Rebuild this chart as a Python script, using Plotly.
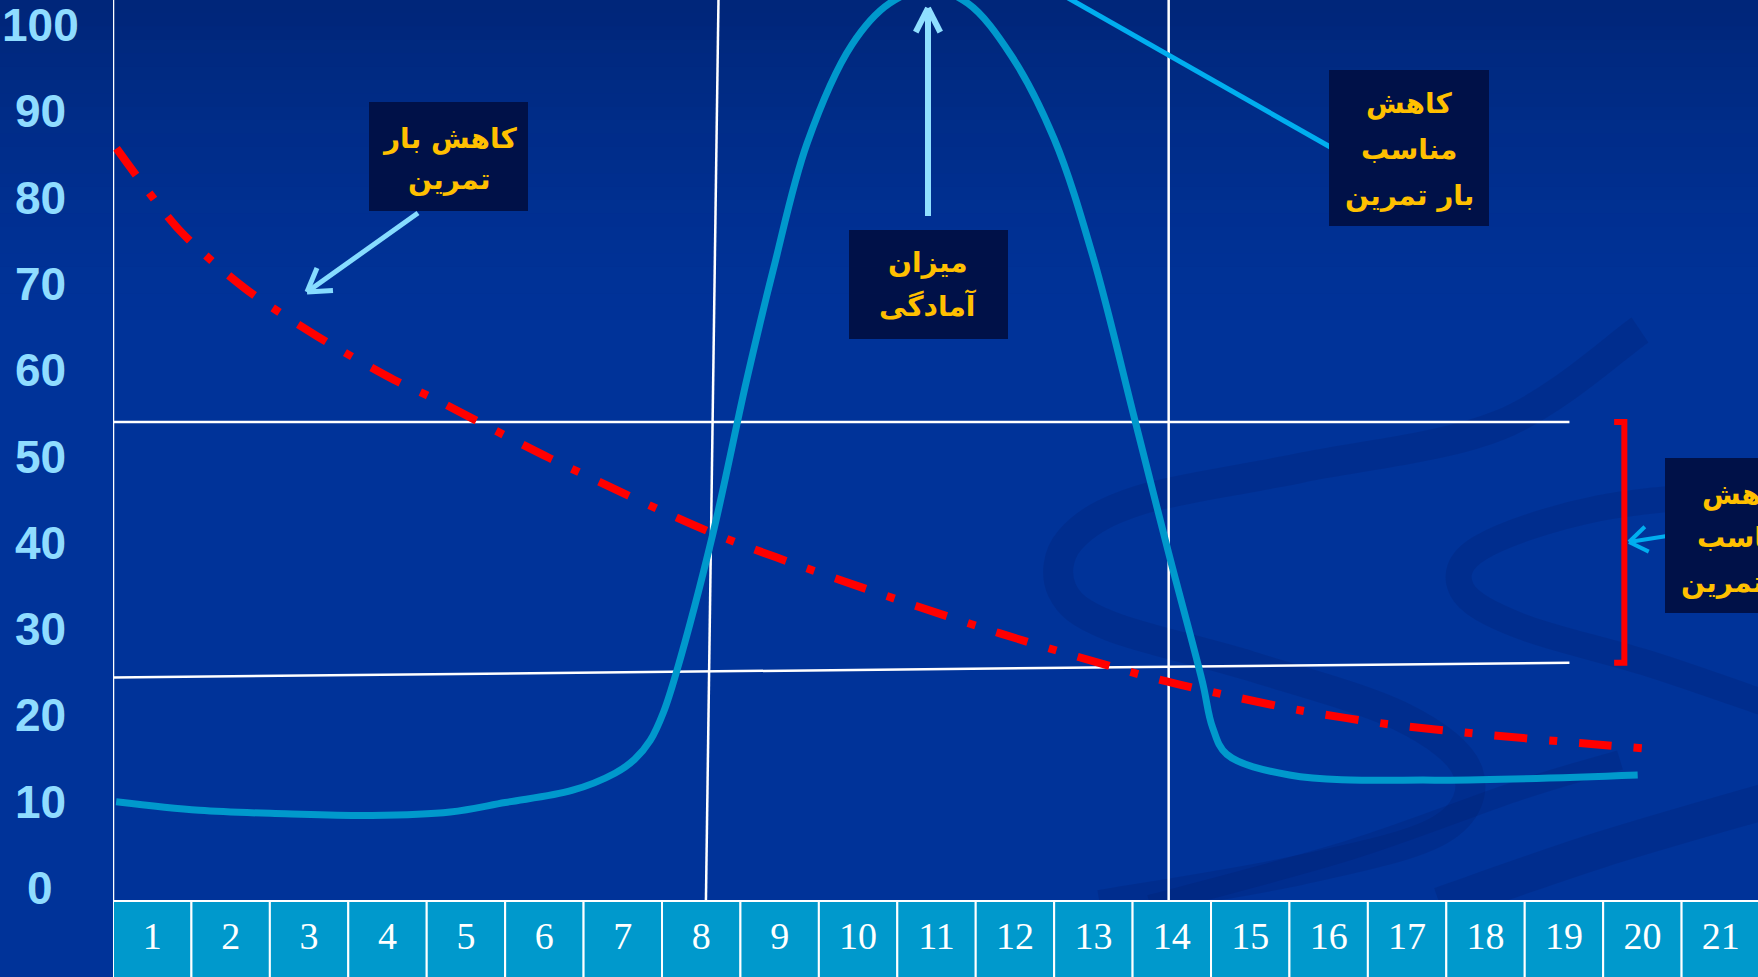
import math
import plotly.graph_objects as go

# ---------------- data ----------------
days = list(range(1, 22))
y_ticks = [0, 10, 20, 30, 40, 50, 60, 70, 80, 90, 100]

# fitness level (solid cyan curve)
fitness_x = [0.54, 1.6, 2.7, 3.8, 4.8, 5.5, 6.35, 6.9, 7.15, 7.35, 7.52, 7.68, 8.15, 8.58,
             8.92, 9.35, 9.92, 10.4, 10.9, 11.4, 11.95, 12.5, 13.0, 13.53, 13.96, 14.39,
             14.52, 14.70, 15.5, 17.35, 19.94]
fitness_y = [10.0, 9.0, 8.6, 8.4, 8.8, 9.9, 11.3, 13.3, 14.9, 17.1, 20.4, 24.9, 41.1, 58.9,
             71.7, 86.3, 97.7, 102.5, 104.2, 102.5, 96.5, 86.8, 73.0, 54.2, 38.8, 23.9,
             18.6, 15.5, 13.1, 12.5, 13.1]

# training load (red dash-dot curve)
load_x = [0.545, 1.35, 2.18, 3.11, 4.08, 4.57, 6.07, 8.15, 9.77, 11.81, 13.65, 14.52,
          15.63, 16.74, 17.97, 19.20, 20.0]
load_y = [85.7, 76.2, 69.5, 63.9, 58.9, 56.8, 49.8, 41.1, 35.7, 29.5, 24.6, 22.7,
          20.6, 19.0, 17.8, 16.8, 16.2]

# reference lines
zone_top = 54.0                 # upper horizontal line
zone_bottom = (24.4, 26.1)      # lower horizontal line (left end, right end)
zone_end = 19.07                # where the horizontal lines stop
taper_start = (8.22, 8.06)      # first vertical line (top, bottom)
taper_end = 13.96               # second vertical line
bracket_x = 19.77
bracket_range = (54.0, 26.1)

# callout texts
note_load = ["کاهش بار", "تمرین"]
note_fitness = ["میزان", "آمادگی"]
note_taper = ["کاهش", "مناسب", "بار تمرین"]

# ---------------- geometry ----------------
W, H = 1758, 977
ML, MB = 113, 77
PW, PH = W - ML, H - MB
X_RANGE = [0.5, 0.5 + PW / 78.43]
Y_RANGE = [-12.0 / 8.63, (PH - 12.0) / 8.63]


def px(x):
    return (x - ML) / PW


def py(y):
    return (PH - y) / PH


def smooth_path(pts):
    """Catmull-Rom through pixel points, returned as an SVG path in paper units."""
    p = [(px(a), py(b)) for a, b in pts]
    d = f"M {p[0][0]:.5f},{p[0][1]:.5f}"
    for i in range(len(p) - 1):
        p0 = p[i - 1] if i > 0 else p[i]
        p1, p2 = p[i], p[i + 1]
        p3 = p[i + 2] if i + 2 < len(p) else p[i + 1]
        c1 = (p1[0] + (p2[0] - p0[0]) / 6, p1[1] + (p2[1] - p0[1]) / 6)
        c2 = (p2[0] - (p3[0] - p1[0]) / 6, p2[1] - (p3[1] - p1[1]) / 6)
        d += f" C {c1[0]:.5f},{c1[1]:.5f} {c2[0]:.5f},{c2[1]:.5f} {p2[0]:.5f},{p2[1]:.5f}"
    return d


def arrow_shapes(tail, tip, color, width, arm=26, angle=32):
    dx, dy = tail[0] - tip[0], tail[1] - tip[1]
    n = math.hypot(dx, dy)
    ux, uy = dx / n, dy / n
    shapes = [dict(type="line", xref="paper", yref="paper",
                   x0=px(tail[0]), y0=py(tail[1]), x1=px(tip[0]), y1=py(tip[1]),
                   line=dict(color=color, width=width), layer="above")]
    for s in (1, -1):
        a = math.radians(angle * s)
        ex = tip[0] + arm * (ux * math.cos(a) - uy * math.sin(a))
        ey = tip[1] + arm * (ux * math.sin(a) + uy * math.cos(a))
        shapes.append(dict(type="line", xref="paper", yref="paper",
                           x0=px(tip[0]), y0=py(tip[1]), x1=px(ex), y1=py(ey),
                           line=dict(color=color, width=width), layer="above"))
    return shapes


shapes = []

# darker band along the top of the slide
steps = 24
for i in range(steps):
    y0, y1 = i * 320 / steps, (i + 1) * 320 / steps
    alpha = 0.38 * (1 - i / steps) ** 1.4
    shapes.append(dict(type="rect", xref="paper", yref="paper", layer="below",
                       x0=px(0), x1=px(W), y0=py(y1), y1=py(y0),
                       fillcolor=f"rgba(0,18,70,{alpha:.3f})", line=dict(width=0)))

# faint swirl decoration in the lower right
swirls = [
    ([(1640, 330), (1500, 425), (1300, 468), (1140, 500), (1070, 540),
      (1062, 590), (1110, 626), (1250, 666), (1400, 716), (1468, 772), (1440, 830),
      (1300, 870), (1100, 905)], 30),
    ([(1770, 490), (1600, 508), (1480, 548), (1462, 590), (1520, 626), (1650, 664),
      (1770, 705)], 26),
    ([(1440, 905), (1600, 850), (1770, 800)], 36),
    ([(1150, 905), (1350, 850), (1520, 790), (1620, 760)], 20),
]
for pts, w in swirls:
    shapes.append(dict(type="path", xref="paper", yref="paper", layer="below",
                       path=smooth_path(pts),
                       line=dict(color="rgba(0,28,105,0.22)", width=w)))

# white reference lines
white = dict(color="white", width=2.5)
shapes += [
    dict(type="line", xref="x", yref="y", layer="below", x0=X_RANGE[0], x1=zone_end,
         y0=zone_top, y1=zone_top, line=white),
    dict(type="line", xref="x", yref="y", layer="below", x0=X_RANGE[0], x1=zone_end,
         y0=zone_bottom[0], y1=zone_bottom[1], line=white),
    dict(type="line", xref="x", yref="y", layer="below", x0=taper_start[0], x1=taper_start[1],
         y0=Y_RANGE[1], y1=Y_RANGE[0], line=white),
    dict(type="line", xref="x", yref="y", layer="below", x0=taper_end, x1=taper_end,
         y0=Y_RANGE[1], y1=Y_RANGE[0], line=white),
    dict(type="line", xref="x", yref="paper", layer="below", x0=X_RANGE[0], x1=X_RANGE[0],
         y0=0, y1=1, line=white),
]

# red bracket
tick = 0.13
shapes.append(dict(type="path", xref="x", yref="y", layer="above",
                   path=(f"M {bracket_x - tick},{bracket_range[0]} L {bracket_x},{bracket_range[0]} "
                         f"L {bracket_x},{bracket_range[1]} L {bracket_x - tick},{bracket_range[1]}"),
                   line=dict(color="#ff0000", width=6)))

# day cells along the bottom
for d in days:
    shapes.append(dict(type="rect", xref="x", yref="paper", layer="below",
                       x0=d - 0.5, x1=d + 0.5, y0=py(H + 2), y1=py(PH + 1),
                       fillcolor="#0099cc", line=dict(color="white", width=2)))

# pointers
shapes += arrow_shapes((418, 213), (307, 292), "#86dcff", 5)
shapes += arrow_shapes((928, 216), (928, 8), "#8fdfff", 6, arm=27, angle=27)
shapes += arrow_shapes((1667, 536), (1629, 542), "#00aeef", 4, arm=22, angle=35)
shapes.append(dict(type="line", xref="paper", yref="paper", layer="above",
                   x0=px(1332), y0=py(148), x1=px(1040), y1=py(-18),
                   line=dict(color="#00aeef", width=5)))

# callout boxes: (lines, centre x, left, top, right, bottom, line centres)
callouts = [
    (note_load, 449, 369, 102, 528, 211, [138, 180]),
    (note_fitness, 928, 849, 230, 1008, 339, [262, 306]),
    (note_taper, 1409, 1329, 70, 1489, 226, [104, 149, 195]),
    (note_taper, 1745, 1665, 458, 1825, 613, [494, 537, 582]),
]
annotations = []
label_font = dict(family="DejaVu Sans", size=28, color="#ffc000", weight="bold")
for lines, cx, x0, y0, x1, y1, ys in callouts:
    shapes.append(dict(type="rect", xref="paper", yref="paper", layer="above",
                       x0=px(x0), x1=px(x1), y0=py(y1), y1=py(y0),
                       fillcolor="#001148", line=dict(width=0)))
    for t, yc in zip(lines, ys):
        annotations.append(dict(text=t, xref="paper", yref="paper", x=px(cx), y=py(yc),
                                xanchor="center", yanchor="middle", showarrow=False,
                                font=label_font))

# ---------------- figure ----------------
fig = go.Figure()
fig.add_trace(go.Scatter(x=fitness_x, y=fitness_y, mode="lines",
                         line=dict(color="#0099cc", width=7, shape="spline", smoothing=1.0),
                         hoverinfo="skip", showlegend=False))
fig.add_trace(go.Scatter(x=load_x, y=load_y, mode="lines",
                         line=dict(color="#ff0000", width=8, shape="spline", smoothing=0.8,
                                   dash="33px,22px,8px,22px"),
                         hoverinfo="skip", showlegend=False))

for v in y_ticks:
    annotations.append(dict(text=str(v), xref="paper", yref="y", x=px(40), y=v,
                            xanchor="center", yanchor="middle", showarrow=False,
                            font=dict(family="Liberation Sans", size=46, color="#8fdcff",
                                      weight="bold")))

fig.update_layout(
    width=W, height=H,
    margin=dict(l=ML, r=0, t=0, b=MB, pad=0),
    paper_bgcolor="#003399",
    plot_bgcolor="rgba(0,0,0,0)",
    shapes=shapes,
    annotations=annotations,
    xaxis=dict(range=X_RANGE, showgrid=False, zeroline=False, showline=False,
               tickmode="array", tickvals=days, ticktext=[str(d) for d in days],
               ticks="", ticklabelstandoff=10,
               tickfont=dict(family="Liberation Serif", size=38, color="white")),
    yaxis=dict(range=Y_RANGE, showgrid=False, zeroline=False, showline=False,
               showticklabels=False, ticks=""),
)

fig.write_html("out.html")
